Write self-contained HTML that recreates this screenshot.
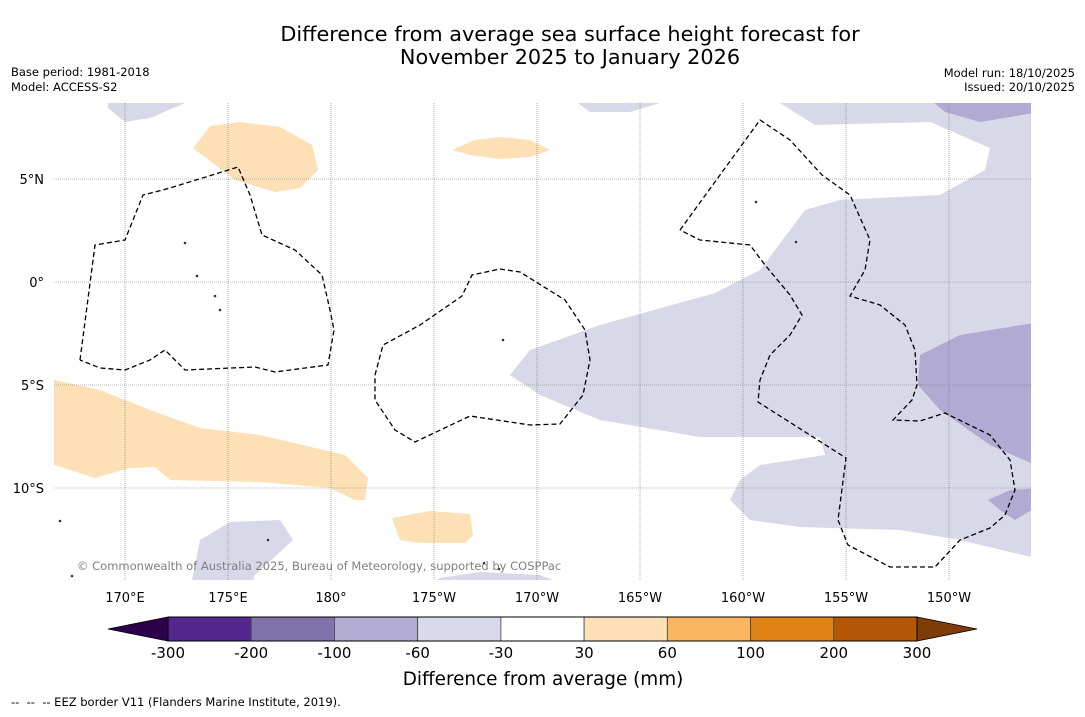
<!DOCTYPE html>
<html><head><meta charset="utf-8"><style>
body{margin:0;background:#fff;width:1085px;height:713px;overflow:hidden;font-family:"DejaVu Sans","Liberation Sans",sans-serif}
svg text{font-family:"DejaVu Sans","Liberation Sans",sans-serif}
</style></head><body>
<svg id="chart" width="1085" height="713">
<text x="570" y="41" font-size="20.8" text-anchor="middle">Difference from average sea surface height forecast for</text>
<text x="570" y="64" font-size="20.8" text-anchor="middle">November 2025 to January 2026</text>
<text x="11" y="76" font-size="11.5">Base period: 1981-2018</text>
<text x="11" y="91" font-size="11.5">Model: ACCESS-S2</text>
<text x="1075" y="77" font-size="11.5" text-anchor="end">Model run: 18/10/2025</text>
<text x="1075" y="91" font-size="11.5" text-anchor="end">Issued: 20/10/2025</text>
<defs><clipPath id="mc"><rect x="54" y="103" width="977" height="477"/></clipPath></defs>
<g id="map" clip-path="url(#mc)"></g>
<g id="axes"></g>
<text x="77" y="570" font-size="11.5" fill="#808080">© Commonwealth of Australia 2025, Bureau of Meteorology, supported by COSPPac</text>
<g id="cbar"></g>
<text x="543" y="685" font-size="18.4" text-anchor="middle">Difference from average (mm)</text>
<text x="11" y="706" font-size="11.5" style="white-space:pre" xml:space="preserve">--  --  -- EEZ border V11 (Flanders Marine Institute, 2019).</text>
</svg>
<script>
const lonTicks=[170,175,180,185,190,195,200,205,210];
const lonLabels=["170°E","175°E","180°","175°W","170°W","165°W","160°W","155°W","150°W"];
const latTicks=[5,0,-5,-10];
const latLabels=["5°N","0°","5°S","10°S"];
const cbBounds=["-300","-200","-100","-60","-30","30","60","100","200","300"];
const cbColors=["#54278f","#8073ac","#b2abd2","#d8daeb","#ffffff","#fee0b6","#f9b55f","#e08214","#b35806"];
const cbLow="#2d004b", cbHigh="#7f3b08";
const px=(x,y)=>[180+(x-331)/20.6,(282-y)/20.6];
const lavenderMain=[[780,103],[815,125],[930,122],[990,148],[985,170],[940,195],[840,200],[805,210],[760,270],[715,293],[600,325],[530,350],[510,375],[540,395],[600,420],[700,437],[820,437],[825,455],[760,465],[740,480],[730,500],[750,520],[800,527],[900,530],[960,540],[1031,557],[1040,557],[1040,95],[780,95]].map(p=>px(...p));
const lavenderTop=[[567,95],[660,95],[660,103],[630,112],[590,112]].map(p=>px(...p));
const lavenderTL=[[108,95],[185,95],[185,103],[150,118],[125,122],[108,108]].map(p=>px(...p));
const lavenderBL=[[190,590],[200,540],[230,522],[280,520],[293,540],[255,575],[250,590]].map(p=>px(...p));
const lavenderBM=[[420,590],[440,578],[480,572],[540,575],[578,590]].map(p=>px(...p));
const purpleTR=[[925,95],[1040,95],[1040,112],[980,122],[945,112]].map(p=>px(...p));
const purpleR=[[1040,322],[960,335],[920,355],[918,385],[940,410],[990,445],[1040,467]].map(p=>px(...p));
const purpleR2=[[988,500],[1010,490],[1040,488],[1040,505],[1015,520],[1000,510]].map(p=>px(...p));
const orangeL=[[45,378],[100,390],[150,410],[200,428],[260,435],[345,455],[368,478],[365,500],[355,500],[330,488],[260,482],[170,480],[155,467],[130,468],[95,478],[45,462]].map(p=>px(...p));
const orangeT=[[193,148],[210,126],[240,122],[280,127],[312,145],[318,170],[300,188],[275,192],[235,180]].map(p=>px(...p));
const orangeM=[[452,150],[475,140],[500,137],[530,140],[550,150],[530,157],[500,159],[470,155]].map(p=>px(...p));
const orangeB=[[392,518],[430,511],[470,514],[473,535],[465,543],[420,543],[400,540]].map(p=>px(...p));
const eez1=[[80,360],[95,245],[125,240],[143,195],[170,188],[238,167],[250,195],[262,235],[295,250],[322,275],[330,310],[334,330],[328,365],[275,372],[255,367],[185,370],[165,350],[150,360],[125,370],[100,368],[80,360]].map(p=>px(...p));
const eez2=[[375,375],[383,345],[420,325],[462,296],[472,275],[500,269],[520,272],[565,300],[585,330],[590,360],[583,395],[560,424],[530,425],[470,416],[415,442],[395,430],[375,400],[375,375]].map(p=>px(...p));
const eez3=[[680,230],[760,120],[790,140],[822,175],[850,195],[870,240],[865,270],[850,296],[880,305],[905,325],[915,350],[917,385],[912,400],[893,420],[920,421],[945,413],[990,435],[1010,460],[1015,490],[1005,515],[990,528],[960,540],[935,567],[890,567],[848,545],[838,520],[846,458],[758,402],[760,380],[770,355],[790,335],[802,315],[790,295],[765,265],[750,245],[700,240],[680,230]].map(p=>px(...p));
const islands=[[484,563],[499,569],[72,576],[60,521],[220,310],[185,243],[197,276],[215,296],[268,540],[503,340],[796,242],[756,202]].map(p=>px(...p));

const xS=lon=>331+(lon-180)*20.6, yS=lat=>282-lat*20.6;
const NS="http://www.w3.org/2000/svg";
const map=document.getElementById('map'), axes=document.getElementById('axes'), cbar=document.getElementById('cbar');
function mk(t,a,p){const e=document.createElementNS(NS,t);for(const k in a)e.setAttribute(k,a[k]);p.appendChild(e);return e;}
const pts=arr=>arr.map(([lo,la])=>xS(lo).toFixed(1)+','+yS(la).toFixed(1)).join(' ');
function poly(arr,fill,name){const e=mk('polygon',{points:pts(arr),fill:fill},map);

}
poly(lavenderMain,"#d8d8e9","anomaly-region-minus30");
poly(lavenderTop,"#d8d8e9","anomaly-region-minus30");
poly(lavenderTL,"#d8d8e9","anomaly-region-minus30");
poly(lavenderBL,"#d8d8e9","anomaly-region-minus30");
poly(lavenderBM,"#d8d8e9","anomaly-region-minus30");
poly(purpleTR,"#b1aad2","anomaly-region-minus60");
poly(purpleR,"#b1aad2","anomaly-region-minus60");
poly(purpleR2,"#b1aad2","anomaly-region-minus60");
poly(orangeL,"#fde0b6","anomaly-region-plus30");
poly(orangeT,"#fde0b6","anomaly-region-plus30");
poly(orangeM,"#fde0b6","anomaly-region-plus30");
poly(orangeB,"#fde0b6","anomaly-region-plus30");
lonTicks.forEach((lo,i)=>{mk('line',{x1:xS(lo),x2:xS(lo),y1:103,y2:580,stroke:'#777','stroke-width':0.6,'stroke-dasharray':'1,1'},map);
const t=mk('text',{x:xS(lo),y:602,'font-size':13,'text-anchor':'middle'},axes);t.textContent=lonLabels[i];

});
latTicks.forEach((la,i)=>{mk('line',{x1:54,x2:1031,y1:yS(la),y2:yS(la),stroke:'#777','stroke-width':0.6,'stroke-dasharray':'1,1'},map);
const t=mk('text',{x:44,y:yS(la)+5,'font-size':13,'text-anchor':'end'},axes);t.textContent=latLabels[i];

});
[eez1,eez2,eez3].forEach(a=>{const e=mk('polyline',{points:pts(a),fill:'none',stroke:'#000','stroke-width':1.3,'stroke-dasharray':'5,3'},map);

});
islands.forEach(([lo,la])=>{const e=mk('circle',{cx:xS(lo),cy:yS(la),r:1.3,fill:'#333'},map);

});
const cx0=168,cx1=917,cy=617,ch=24,n=cbColors.length,w=(cx1-cx0)/n;
const lo=mk('polygon',{points:`${cx0},${cy} 108,${cy+ch/2} ${cx0},${cy+ch}`,fill:cbLow,stroke:'#000','stroke-width':0.8},cbar);


const hi=mk('polygon',{points:`${cx1},${cy} 977,${cy+ch/2} ${cx1},${cy+ch}`,fill:cbHigh,stroke:'#000','stroke-width':0.8},cbar);


cbColors.forEach((c,i)=>{const r=mk('rect',{x:cx0+i*w,y:cy,width:w,height:ch,fill:c,stroke:'#444','stroke-width':0.8},cbar);

});
mk('rect',{x:cx0,y:cy,width:cx1-cx0,height:ch,fill:'none',stroke:'#000','stroke-width':1},cbar);
cbBounds.forEach((b,i)=>{const t=mk('text',{x:cx0+i*w,y:658,'font-size':15,'text-anchor':'middle'},cbar);t.textContent=b;

});
</script>
</body></html>
